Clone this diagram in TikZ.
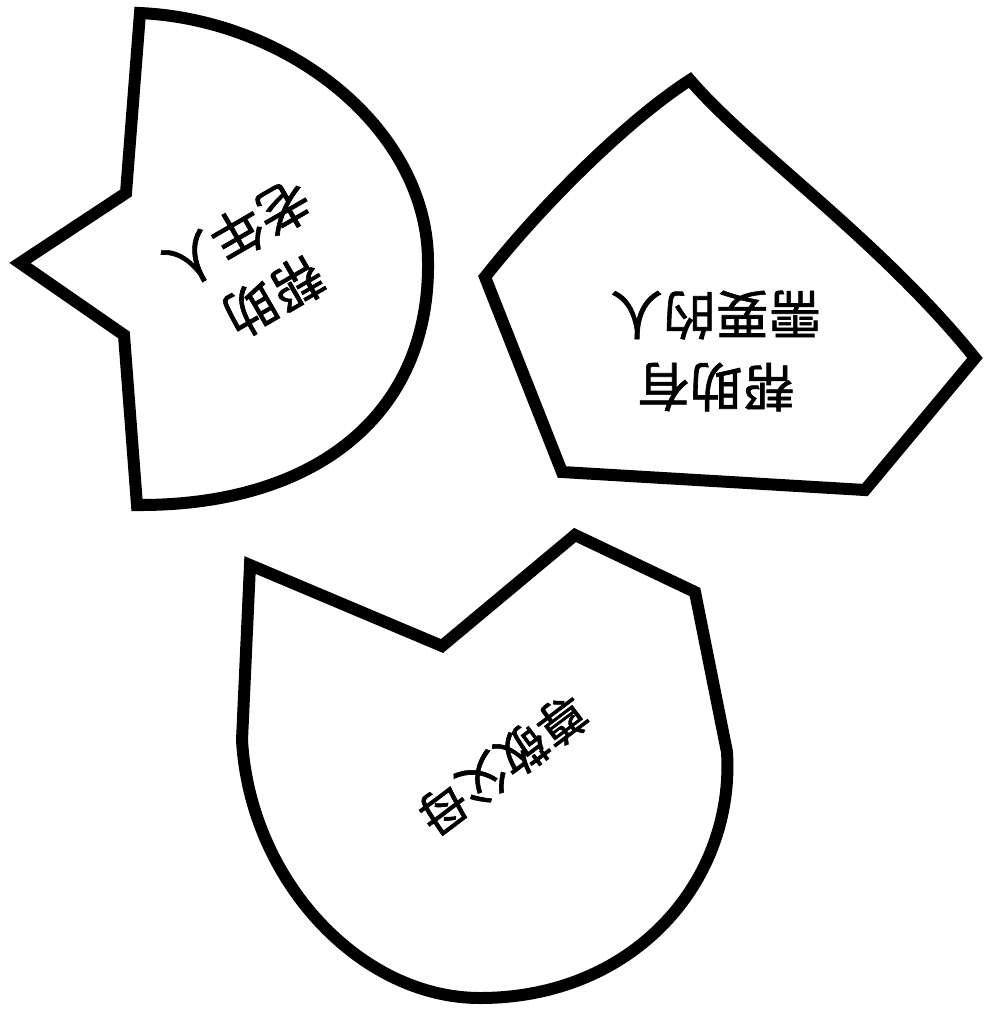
\documentclass[tikz,border=0pt]{standalone}
\usepackage{fontspec}
\newfontfamily\cjk[FakeBold=1.2]{Noto Sans CJK SC}
\begin{document}
\begin{tikzpicture}[x=0.02cm,y=-0.02cm,
  shapeline/.style={draw=black,line width=0.24cm,line join=miter,fill=white},
  lbl/.style={font=\cjk\fontsize{30}{41}\selectfont,align=center,inner sep=0pt}]
\useasboundingbox (0,0) rectangle (1006,1009);
% shape 1: fan with notch
\draw[shapeline] (140,13) .. controls (290,20) and (428,130) .. (428,262)
  .. controls (430,415) and (315,506) .. (137,505)
  -- (124,335) -- (20,263) -- (126,193) -- cycle;
% shape 2: pentagon with curved top edges
\draw[shapeline] (690,80) .. controls (750,150) and (880,240) .. (975,358)
  -- (865,490) -- (562,472) -- (485,277)
  .. controls (550,195) and (635,115) .. (690,80) -- cycle;
% shape 3: tulip-like shape
\draw[shapeline] (250,565) -- (442,646) -- (575,535) -- (695,592) -- (727,752)
  .. controls (735,880) and (635,998) .. (480,998)
  .. controls (360,998) and (250,880) .. (242,740) -- cycle;
% texts
\node[lbl,rotate=210] (t1) at (256,265) {帮助\\老年人};
\node[lbl,rotate=180] (t2) at (716,351) {帮助有\\需要的人};
\node[lbl,font=\cjk\fontsize{28}{38}\selectfont,rotate=217] (t3) at (503,765) {尊敬父母};
\end{tikzpicture}
\end{document}
